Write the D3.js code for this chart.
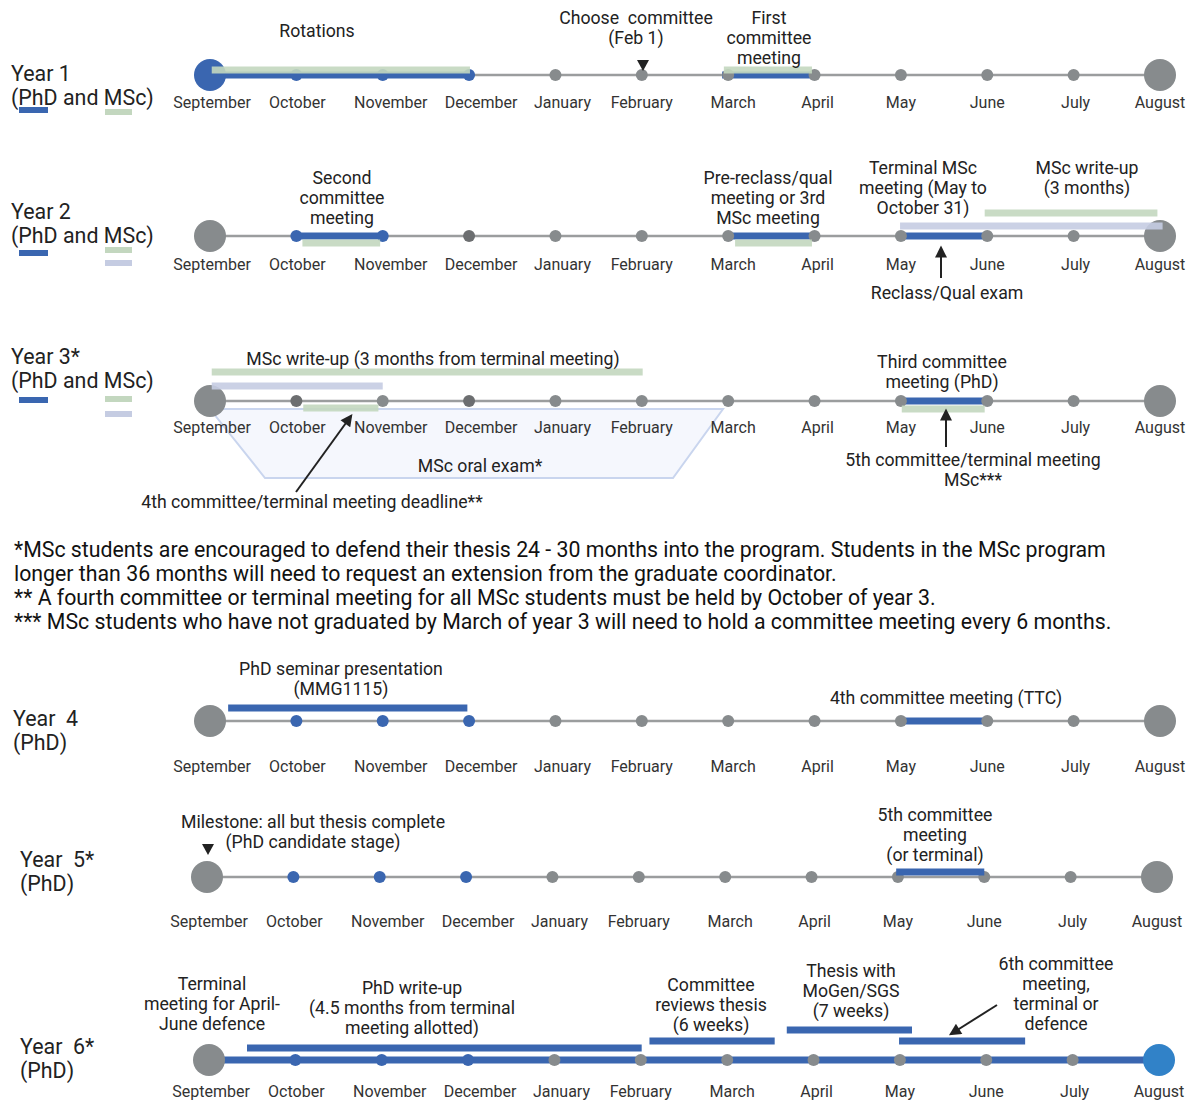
<!DOCTYPE html>
<html>
<head>
<meta charset="utf-8">
<script src="https://cdn.jsdelivr.net/npm/d3@7"></script>
<style>
  body { margin: 0; background: #fff; }
  text { font-family: Roboto, "Noto Sans", sans-serif; fill: #222; white-space: pre; }
</style>
</head>
<body>
<svg id="chart" width="1194" height="1101"></svg>
<script>
// ---- data ----
const months = ["September", "October", "November", "December", "January", "February",
                "March", "April", "May", "June", "July", "August"];

const rowNames = [["Year 1", "(PhD and MSc)"], ["Year 2", "(PhD and MSc)"], ["Year 3*", "(PhD and MSc)"],
                  ["Year  4", "(PhD)"], ["Year  5*", "(PhD)"], ["Year  6*", "(PhD)"]];

// dot kind for each month: b = PhD blue, g = grey, d = dark grey, e = end blue
const dotKinds = ["bbbbgggggggg", "gbbdgggggggg", "gdgdgggggggg",
                  "gbbbgggggggg", "gbbbgggggggg", "gbbbggggggge"];

// PhD spans drawn on the axis itself: [row, from month, to month]
const phdSpans = [[0, 0, 3], [0, 5.93, 7], [1, 1, 2], [1, 6, 7], [1, 8, 9],
                  [2, 8, 9], [3, 8, 9], [5, 0, 11]];

// floating bars: [row, from month, to month, program]
const bars = [
  [0, 0.02, 3.01, "msc"], [0, 5.95, 6.97, "msc"],
  [1, 1.07, 1.97, "msc"], [1, 6.08, 6.97, "msc"], [1, 7.99, 11.03, "term"], [1, 8.97, 10.97, "msc"],
  [2, 0.02, 5.01, "msc"], [2, 0.02, 2.0, "term"], [2, 1.08, 1.95, "msc"], [2, 8.01, 8.97, "msc"],
  [3, 0.21, 2.98, "phd"],
  [4, 7.98, 9.0, "phd"],
  [5, 0.44, 5.01, "phd"], [5, 5.1, 6.55, "phd"], [5, 6.69, 8.14, "phd"], [5, 7.99, 9.45, "phd"]
];

// MSc oral exam window in year 3 (months)
const oralExam = [0, 5.94];

const notes = [
  "*MSc students are encouraged to defend their thesis 24 - 30 months into the program. Students in the MSc program",
  "longer than 36 months will need to request an extension from the graduate coordinator.",
  "** A fourth committee or terminal meeting for all MSc students must be held by October of year 3.",
  "*** MSc students who have not graduated by March of year 3 will need to hold a committee meeting every 6 months."
];

// ---- layout ----
const axisY = [75, 236, 401, 721, 877, 1060];
const labelY = [104, 266, 429, 768, 923, 1093];
const rowShift = [0, 0, 0, 0, -3, -1];
const nameX = [11, 11, 11, 13, 20, 20];
const nameY = [75, 213, 358, 720, 861, 1048];
const labelNudge = [2, 1, 8, 12, 7, 0, 5, 3, 0, 0, 2, 0];
const barLift = [-5, -5, 7, 7, -10, -23, -29, -15, 7, 8, -13, -5, -12, -19, -30, -19];

const colors = {
  phd: "#3a66b0", msc: "#c3d7bf", term: "#c5cce2", line: "#9b9d9e",
  g: "#878b8d", d: "#6c6e70", b: "#3a66b0", e: "#3182c8"
};

const annotations = [
  [317, 32, ["Rotations"]],
  [636, 19, ["Choose  committee", "(Feb 1)"]],
  [769, 19, ["First", "committee", "meeting"]],
  [342, 179, ["Second", "committee", "meeting"]],
  [768, 179, ["Pre-reclass/qual", "meeting or 3rd", "MSc meeting"]],
  [923, 169, ["Terminal MSc", "meeting (May to", "October 31)"]],
  [1087, 169, ["MSc write-up", "(3 months)"]],
  [947, 294, ["Reclass/Qual exam"]],
  [433, 360, ["MSc write-up (3 months from terminal meeting)"]],
  [942, 363, ["Third committee", "meeting (PhD)"]],
  [480, 467, ["MSc oral exam*"]],
  [312, 503, ["4th committee/terminal meeting deadline**"]],
  [973, 461, ["5th committee/terminal meeting", "MSc***"]],
  [341, 670, ["PhD seminar presentation", "(MMG1115)"]],
  [946, 699, ["4th committee meeting (TTC)"]],
  [313, 823, ["Milestone: all but thesis complete", "(PhD candidate stage)"]],
  [935, 816, ["5th committee", "meeting", "(or terminal)"]],
  [212, 985, ["Terminal", "meeting for April-", "June defence"]],
  [412, 989, ["PhD write-up", "(4.5 months from terminal", "meeting allotted)"]],
  [711, 986, ["Committee", "reviews thesis", "(6 weeks)"]],
  [851, 972, ["Thesis with", "MoGen/SGS", "(7 weeks)"]],
  [1056, 965, ["6th committee", "meeting,", "terminal or", "defence"]]
];

const arrows = [[941, 278, 941, 248], [296, 492, 351, 416], [946, 447, 946, 411], [997, 1005, 951, 1034]];
const triangles = [[643, 66], [208, 850]];

// ---- drawing ----
const svg = d3.select("#chart");

svg.append("defs").append("marker")
  .attr("id", "head")
  .attr("viewBox", "0 0 10 10")
  .attr("refX", 8).attr("refY", 5)
  .attr("markerWidth", 6.5).attr("markerHeight", 6)
  .attr("orient", "auto")
  .append("path").attr("d", "M0,0 L10,5 L0,10 z").attr("fill", "#222");

function xScaleFor(r) {
  return d3.scaleLinear().domain([0, 11]).range([210 + rowShift[r], 1160 + rowShift[r]]);
}

// year 3 oral exam trapezoid (behind everything)
{
  const x = xScaleFor(2);
  const top = axisY[2] + 8, bottom = axisY[2] + 77;
  svg.append("path")
    .attr("d", `M${x(oralExam[0])},${top} L${x(oralExam[1])},${top} L${x(oralExam[1]) - 50},${bottom} L${x(oralExam[0]) + 55},${bottom} Z`)
    .attr("fill", "#f5f7fd")
    .attr("stroke", "#c9d5ee")
    .attr("stroke-width", 2);
}

rowNames.forEach((names, r) => {
  const x = xScaleFor(r);
  const g = svg.append("g").attr("class", "row");
  const y = axisY[r];

  // row name
  g.selectAll(".name").data(names).enter().append("text")
    .attr("x", nameX[r]).attr("y", (d, i) => nameY[r] + i * 24)
    .attr("dominant-baseline", "middle")
    .style("font-size", "21.4px")
    .text(d => d);

  // legend swatches for PhD and MSc rows
  if (r < 3) {
    const sw = [
      [19, r === 0 ? 110 : r === 1 ? 253 : 400, colors.phd, 29],
      [105, r === 0 ? 112 : r === 1 ? 250 : 399, colors.msc, 27]
    ];
    if (r > 0) sw.push([105, r === 1 ? 263 : 414, colors.term, 27]);
    g.selectAll(".sw").data(sw).enter().append("rect")
      .attr("x", d => d[0]).attr("y", d => d[1] - 3)
      .attr("width", d => d[3]).attr("height", 6)
      .attr("fill", d => d[2]);
  }

  // axis line
  g.append("line")
    .attr("x1", x(0)).attr("x2", x(11)).attr("y1", y).attr("y2", y)
    .attr("stroke", colors.line).attr("stroke-width", 2.5);

  // PhD spans on the axis
  g.selectAll(".span").data(phdSpans.filter(d => d[0] === r)).enter().append("line")
    .attr("x1", d => x(d[1])).attr("x2", d => x(d[2]))
    .attr("y1", y).attr("y2", y)
    .attr("stroke", colors.phd).attr("stroke-width", 7);

  // month dots
  const kinds = dotKinds[r].split("");
  g.selectAll(".dot").data(kinds).enter().append("circle")
    .attr("cx", (d, i) => x(i)).attr("cy", y)
    .attr("r", (d, i) => (i === 0 || i === 11) ? 16 : 6)
    .attr("fill", d => colors[d]);

  // month labels
  g.selectAll(".month").data(months).enter().append("text")
    .attr("x", (d, i) => x(i) + labelNudge[i]).attr("y", labelY[r])
    .attr("text-anchor", "middle").attr("dominant-baseline", "middle")
    .style("font-size", "16px").style("fill", "#333")
    .text(d => d);
});

// floating bars
bars.forEach((b, i) => {
  const x = xScaleFor(b[0]);
  svg.append("rect")
    .attr("x", x(b[1])).attr("width", x(b[2]) - x(b[1]))
    .attr("y", axisY[b[0]] + barLift[i] - 3.5).attr("height", 7)
    .attr("fill", colors[b[3]])
    .attr("opacity", b[3] === "phd" ? 1 : 0.9);
});

// annotations
annotations.forEach(a => {
  svg.append("g").selectAll("text").data(a[2]).enter().append("text")
    .attr("x", a[0]).attr("y", (d, i) => a[1] + i * 20)
    .attr("text-anchor", "middle").attr("dominant-baseline", "middle")
    .style("font-size", "17.7px")
    .text(d => d);
});

svg.selectAll(".arrow").data(arrows).enter().append("line")
  .attr("x1", d => d[0]).attr("y1", d => d[1]).attr("x2", d => d[2]).attr("y2", d => d[3])
  .attr("stroke", "#222").attr("stroke-width", 2)
  .attr("marker-end", "url(#head)");

svg.selectAll(".tri").data(triangles).enter().append("path")
  .attr("d", d => `M${d[0] - 6},${d[1] - 6} L${d[0] + 6},${d[1] - 6} L${d[0]},${d[1] + 5} Z`)
  .attr("fill", "#222");

// footnotes
svg.selectAll(".note").data(notes).enter().append("text")
  .attr("x", 14).attr("y", (d, i) => 551 + i * 24)
  .attr("dominant-baseline", "middle")
  .style("font-size", "21.3px").style("fill", "#111")
  .text(d => d);
</script>
</body>
</html>
